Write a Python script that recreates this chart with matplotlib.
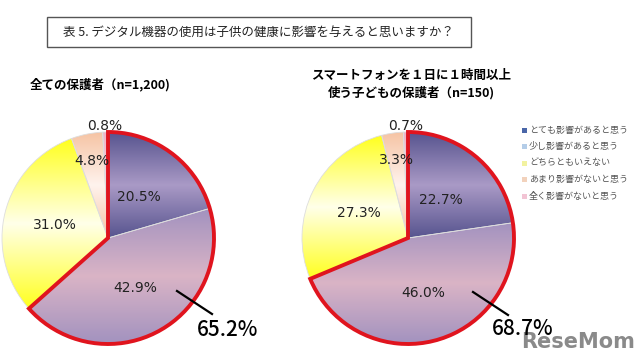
import numpy as np
import matplotlib
matplotlib.use("Agg")
import matplotlib.pyplot as plt
from matplotlib.colors import LinearSegmentedColormap
from matplotlib.patches import Wedge, Rectangle

plt.rcParams['font.family'] = ['Noto Sans CJK JP', 'DejaVu Sans']

# data
categories = ["とても影響があると思う", "少し影響があると思う", "どちらともいえない",
              "あまり影響がないと思う", "全く影響がないと思う"]
all_parents = [20.5, 42.9, 31.0, 4.8, 0.8]
smartphone_parents = [22.7, 46.0, 27.3, 3.3, 0.7]
all_total = "65.2%"
smartphone_total = "68.7%"
title = "表 5. デジタル機器の使用は子供の健康に影響を与えると思いますか？"
left_title = "全ての保護者（n=1,200)"
right_title = "スマートフォンを１日に１時間以上\n使う子どもの保護者（n=150)"

# gradient (edge, middle) per slice
grads = [("#57548f", "#aa9ac6"), ("#a292bf", "#dab4c6"), ("#ffff1e", "#ffffea"),
         ("#f6c4a4", "#fff3ee"), ("#f0b4c6", "#f8d8e2")]
legend_cols = ["#4a66a8", "#b4cde8", "#f2f2a0", "#f2d2bc", "#f2c4d4"]
label_dist = [0.48, 0.54, 0.52, 0.74, 1.06]

fig = plt.figure(figsize=(6.4, 3.63), dpi=100)
ax = fig.add_axes([0, 0, 1, 1])


def draw_pie(vals, cx, cy, r, total, total_xy, line_from):
    wedges, _ = ax.pie(vals, center=(cx, cy), radius=r, startangle=90,
                       counterclock=False, frame=True,
                       wedgeprops=dict(edgecolor='#dddddd', linewidth=0.6))
    for w, (c0, c1) in zip(wedges, grads):
        ext = w.get_path().get_extents(w.get_patch_transform())
        cmap = LinearSegmentedColormap.from_list("g", [c0, c1, c0])
        grad = np.linspace(0, 1, 128).reshape(-1, 1)
        im = ax.imshow(grad, cmap=cmap, aspect='auto', origin='lower',
                       extent=(ext.x0, ext.x1, ext.y0, ext.y1), zorder=1)
        im.set_clip_path(w)
        w.set_facecolor('none')
        w.set_zorder(2)
    # labels
    cum = np.cumsum([0] + vals)
    for i, v in enumerate(vals):
        ang = np.deg2rad(90 - (cum[i] + v / 2) * 3.6)
        d = label_dist[i] * r
        ax.text(cx + d * np.cos(ang), cy + d * np.sin(ang), f"{v:.1f}%",
                ha='center', va='center', fontsize=10, color='#222222',
                family=['DejaVu Sans'], zorder=4)
    # red outline of the "affected" group
    t1 = 90 - (vals[0] + vals[1]) * 3.6
    ax.add_patch(Wedge((cx, cy), r, t1, 90, fill=False, edgecolor='#e0141e',
                       linewidth=2.8, zorder=3))
    ax.plot([line_from[0], line_from[0] + 35], [line_from[1], line_from[1] - 23],
            color='black', lw=1.6, zorder=4)
    ax.text(total_xy[0], total_xy[1], total, ha='center', va='center',
            fontsize=15, fontweight='medium', color='black', zorder=4)


draw_pie(all_parents, 108, 125, 106, all_total, (228, 33), (177, 72))
draw_pie(smartphone_parents, 408, 125, 106, smartphone_total, (523, 34), (473, 71))
ax.set_xlim(0, 640)
ax.set_ylim(0, 363)
ax.set_aspect('equal')
ax.axis('off')

# title box
ax.add_patch(Rectangle((47, 316), 424, 30, fill=False, edgecolor='#555555', lw=1))
ax.text(258, 331, title, ha='center', va='center', fontsize=9, color='#222222')

ax.text(30, 278, left_title, ha='left', va='center', fontsize=9, fontweight='bold')
ax.text(411, 279, right_title, ha='center', va='center', fontsize=9,
        fontweight='bold', linespacing=1.35)

# legend
for i, (lab, col) in enumerate(zip(categories, legend_cols)):
    y = 233 - i * 16.5
    ax.add_patch(Rectangle((522, y - 2.5), 5, 5, facecolor=col, edgecolor='none'))
    ax.text(529, y, lab, ha='left', va='center', fontsize=6.5, color='#555555')

# watermark
ax.text(578, 21, "ReseMom", ha='center', va='center', fontsize=15,
        fontweight='bold', color='#8a8a8a', family=['DejaVu Sans'], zorder=0)

fig.savefig("out.png", dpi=100)
